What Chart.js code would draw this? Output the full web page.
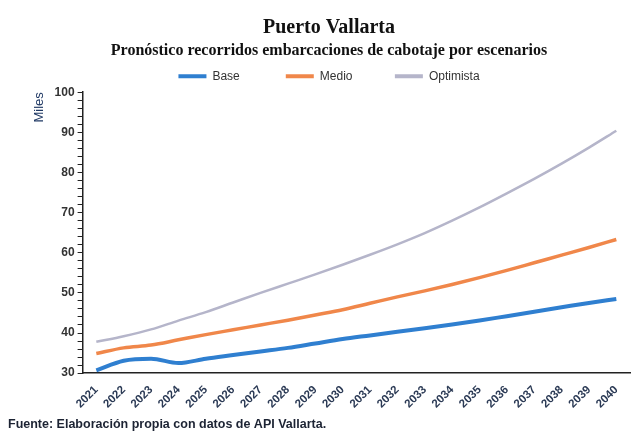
<!DOCTYPE html>
<html lang="es">
<head>
  <meta charset="UTF-8" />
  <title>Puerto Vallarta</title>
  <script src="https://cdn.jsdelivr.net/npm/chart.js"></script>
  <style>
    html, body { margin: 0; padding: 0; background: #ffffff; }
    #chart { display: block; }
  </style>
</head>
<body>
  <canvas id="chart" width="636" height="441"></canvas>

  <script>
    // datos (miles de recorridos)
    const years = ['2021', '2022', '2023', '2024', '2025', '2026', '2027', '2028', '2029', '2030',
                   '2031', '2032', '2033', '2034', '2035', '2036', '2037', '2038', '2039', '2040'];
    const base = [30.7, 33.1, 33.6, 32.5, 33.6, 34.5, 35.4, 36.3, 37.4, 38.5,
                  39.4, 40.3, 41.2, 42.1, 43.1, 44.2, 45.3, 46.4, 47.5, 48.5];
    const medio = [34.9, 36.3, 37.0, 38.3, 39.6, 40.8, 42.0, 43.2, 44.5, 45.8,
                   47.4, 49.0, 50.5, 52.1, 53.8, 55.6, 57.5, 59.4, 61.3, 63.3];
    const optimista = [37.8, 39.2, 40.9, 43.1, 45.2, 47.6, 50.0, 52.3, 54.6, 57.0,
                       59.5, 62.1, 64.9, 68.0, 71.3, 74.8, 78.4, 82.2, 86.2, 90.4];
    const yMin = 30;
    const yMax = 100;
    const chartTitle = 'Puerto Vallarta';
    const chartSubtitle = 'Pronóstico recorridos embarcaciones de cabotaje por escenarios';
    const axisTitle = 'Miles';
    const sourceNote = 'Fuente: Elaboración propia con datos de API Vallarta.';

    const footer = {
      id: 'footer',
      afterDraw(chart) {
        const ctx = chart.ctx;
        ctx.save();
        ctx.font = 'bold 12.5px "Liberation Sans", Arial, sans-serif';
        ctx.fillStyle = '#1c2333';
        ctx.textBaseline = 'middle';
        ctx.fillText(sourceNote, 8, 425);
        ctx.restore();
      }
    };

    const sans = '"Liberation Sans", Arial, sans-serif';

    new Chart(document.getElementById('chart'), {
      type: 'line',
      data: {
        labels: years,
        datasets: [
          { label: 'Base', data: base, borderColor: '#2f7fd0', backgroundColor: '#2f7fd0', borderWidth: 4 },
          { label: 'Medio', data: medio, borderColor: '#f0874a', backgroundColor: '#f0874a', borderWidth: 3.5 },
          { label: 'Optimista', data: optimista, borderColor: '#b5b5ca', backgroundColor: '#b5b5ca', borderWidth: 2.5 }
        ]
      },
      options: {
        responsive: false,
        animation: false,
        elements: {
          point: { radius: 0 },
          line: { tension: 0.4, cubicInterpolationMode: 'monotone' }
        },
        layout: { padding: { left: 28, right: 6, top: 0, bottom: 28 } },
        plugins: {
          title: {
            display: true,
            text: chartTitle,
            color: '#111111',
            font: { family: '"Liberation Serif", serif', size: 20, weight: 'bold' },
            padding: { top: 16, bottom: 0 }
          },
          subtitle: {
            display: true,
            text: chartSubtitle,
            color: '#111111',
            font: { family: '"Liberation Serif", serif', size: 16, weight: 'bold' },
            padding: { top: 1, bottom: 0 }
          },
          legend: {
            labels: {
              color: '#333333',
              font: { family: sans, size: 12 },
              boxWidth: 28,
              boxHeight: 4,
              padding: 10,
              generateLabels(chart) {
                const items = Chart.defaults.plugins.legend.labels.generateLabels(chart);
                // huecos entre entradas como en el original
                const gaps = ['\u2003\u2003\u2003', '\u2003\u2003\u2002\u2009', ''];
                return items.map((it, i) => ({ ...it, lineWidth: 0, text: it.text + gaps[i] }));
              }
            }
          },
          tooltip: { enabled: false }
        },
        scales: {
          x: {
            offset: true,
            grid: { display: false },
            border: { color: '#222222', width: 1.5 },
            ticks: {
              color: '#2b3a55',
              font: { family: sans, size: 11.5, weight: 'bold' },
              minRotation: 45,
              maxRotation: 45,
              autoSkip: false,
              padding: 2
            }
          },
          y: {
            min: yMin,
            max: yMax,
            border: { color: '#222222', width: 1.5 },
            grid: { drawOnChartArea: false, tickLength: 5, color: '#222222' },
            ticks: {
              stepSize: 2,
              autoSkip: false,
              padding: 3,
              color: '#333333',
              font: { family: sans, size: 12, weight: 'bold' },
              callback: v => (v % 10 === 0 ? v : '')
            },
            title: {
              display: true,
              text: axisTitle,
              align: 'end',
              color: '#1f3864',
              font: { family: sans, size: 13 }
            }
          }
        }
      },
      plugins: [footer]
    });
  </script>
</body>
</html>
